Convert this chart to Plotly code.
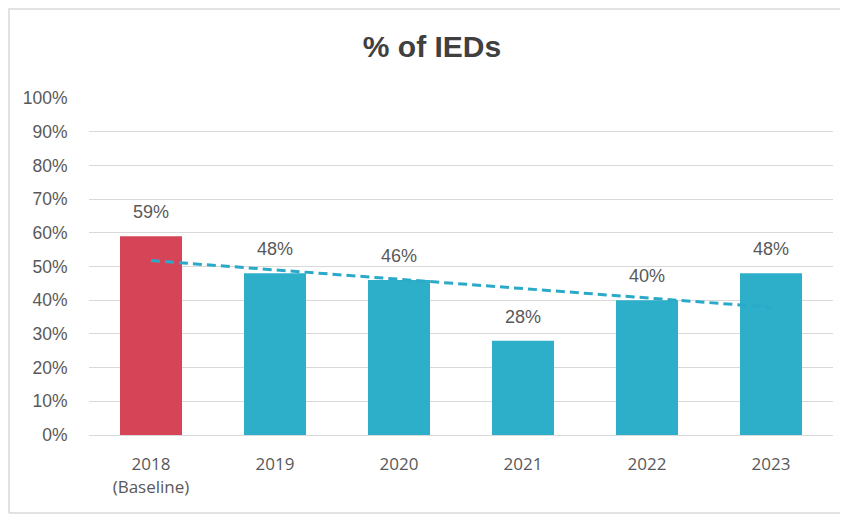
import numpy as np
import plotly.graph_objects as go

categories = ["2018<br>(Baseline)", "2019", "2020", "2021", "2022", "2023"]
values = [0.59, 0.48, 0.46, 0.28, 0.40, 0.48]
label_texts = ["59%", "48%", "46%", "28%", "40%", "48%"]
bar_colors = ["#D64557", "#2DAFCA", "#2DAFCA", "#2DAFCA", "#2DAFCA", "#2DAFCA"]
y_ticks = [0, 0.1, 0.2, 0.3, 0.4, 0.5, 0.6, 0.7, 0.8, 0.9, 1.0]
y_tick_labels = ["0%", "10%", "20%", "30%", "40%", "50%", "60%", "70%", "80%", "90%", "100%"]

# linear trendline fitted to the bar values (as in the spreadsheet chart)
idx = np.arange(1, len(values) + 1)
slope, intercept = np.polyfit(idx, values, 1)
trend = slope * idx + intercept

fig = go.Figure()
fig.add_trace(go.Bar(
    x=categories, y=values, marker=dict(color=bar_colors, line=dict(width=0)),
    hoverinfo="skip", showlegend=False,
))
fig.add_trace(go.Scatter(
    x=categories, y=trend, mode="lines",
    line=dict(color="#2BA9C8", width=3, dash="9px,5px"),
    hoverinfo="skip", showlegend=False,
))
for i, (v, t) in enumerate(zip(values, label_texts)):
    fig.add_annotation(x=i, y=v, text=t, showarrow=False, yanchor="bottom", yshift=12,
                       font=dict(family="Liberation Sans, Arial, sans-serif", size=18, color="#595959"))

W, H = 840, 508
PW, PH = 744, 337
L, T = 81, 90
def px(xf):
    return (xf - L) / PW
def py(yf):
    return (T + PH - yf) / PH

border_path = "M {x0},{y0} L {x0},{y1} L {x1},{y1} M {x0},{y0} L {x1},{y0}".format(
    x0=px(1), y0=py(505), x1=px(900), y1=py(1))

fig.update_layout(
    width=W, height=H,
    margin=dict(l=L, r=15, t=T, b=81),
    paper_bgcolor="white", plot_bgcolor="white",
    bargap=0.5,
    title=dict(text="<b>% of IEDs</b>", x=424 / W, xanchor="center", y=1 - 38 / H, yanchor="middle",
               font=dict(family="Liberation Sans, Arial, sans-serif", size=30, color="#404040")),
    xaxis=dict(type="category", range=[-0.5, len(categories) - 0.5],
               showgrid=False, showline=True, linecolor="#D9D9D9", linewidth=1,
               tickfont=dict(family="Open Sans, Liberation Sans, sans-serif", size=17, color="#595959"),
               ticks="outside", ticklen=14, tickcolor="rgba(0,0,0,0)"),
    yaxis=dict(range=[0, 1.0], tickvals=y_ticks, ticktext=y_tick_labels,
               showgrid=True, gridcolor="#D9D9D9", gridwidth=1, zeroline=False,
               tickfont=dict(family="Liberation Sans, Arial, sans-serif", size=17.5, color="#595959"),
               ticks="outside", ticklen=17, tickcolor="rgba(0,0,0,0)"),
    shapes=[dict(type="path", xref="paper", yref="paper", path=border_path,
                 line=dict(color="#D9D9D9", width=1.5), layer="below")],
)

fig.write_html("out.html")
